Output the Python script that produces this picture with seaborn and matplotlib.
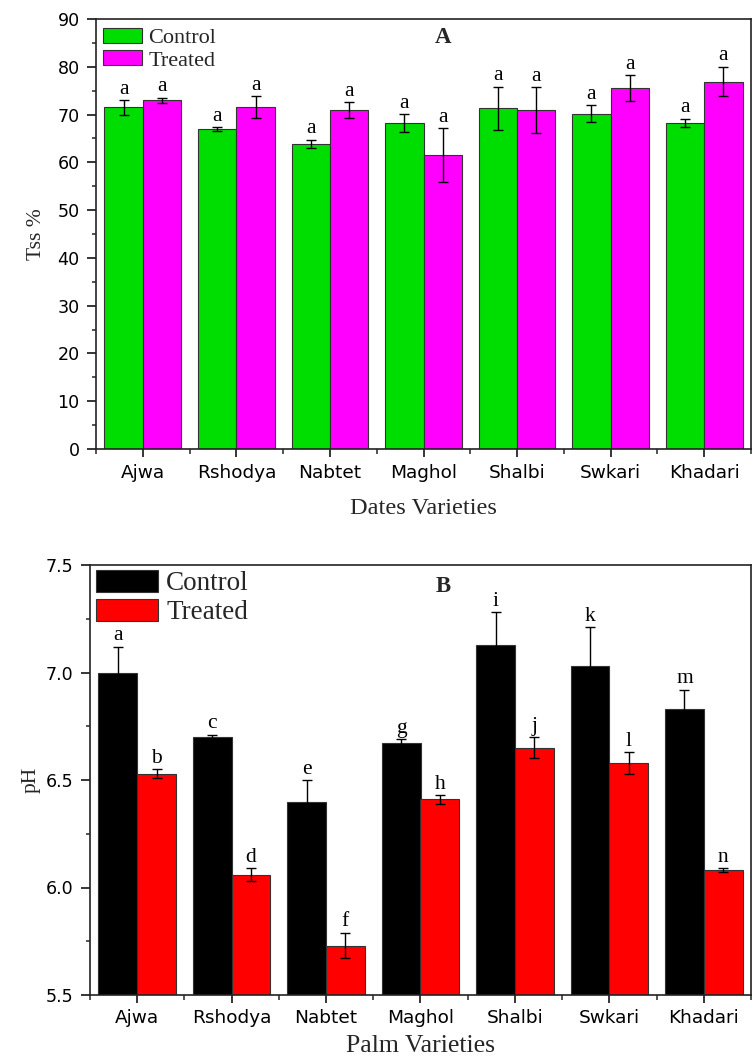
import numpy as np
import pandas as pd
import matplotlib
matplotlib.use("Agg")
import matplotlib.pyplot as plt
from matplotlib.ticker import MultipleLocator, FixedLocator
import seaborn as sns

# ---------------- data ----------------
varieties = ['Ajwa', 'Rshodya', 'Nabtet', 'Maghol', 'Shalbi', 'Swkari', 'Khadari']
groups = ['Control', 'Treated']

tss_control = [71.5, 66.9, 63.8, 68.2, 71.3, 70.2, 68.2]
tss_control_err = [1.5, 0.4, 0.9, 1.9, 4.5, 1.7, 0.9]
tss_treated = [73.0, 71.5, 70.9, 61.5, 70.9, 75.6, 76.9]
tss_treated_err = [0.5, 2.3, 1.7, 5.7, 4.8, 2.7, 3.1]
tss_control_letters = ['a', 'a', 'a', 'a', 'a', 'a', 'a']
tss_treated_letters = ['a', 'a', 'a', 'a', 'a', 'a', 'a']

ph_control = [7.00, 6.70, 6.40, 6.67, 7.13, 7.03, 6.83]
ph_control_err = [0.12, 0.01, 0.10, 0.02, 0.15, 0.18, 0.09]
ph_treated = [6.53, 6.06, 5.73, 6.41, 6.65, 6.58, 6.08]
ph_treated_err = [0.02, 0.03, 0.06, 0.02, 0.05, 0.05, 0.01]
ph_control_letters = ['a', 'c', 'e', 'g', 'i', 'k', 'm']
ph_treated_letters = ['b', 'd', 'f', 'h', 'j', 'l', 'n']

# ---------------- style ----------------
sns.set_style('ticks')
plt.rcParams['font.family'] = ['DejaVu Sans']
SERIF = ['Liberation Serif', 'DejaVu Serif']

fig = plt.figure(figsize=(7.53, 10.56), dpi=100)
W, H = 753, 1056
ax1 = fig.add_axes([96 / W, 1 - 449 / H, 655 / W, 430 / H])
ax2 = fig.add_axes([90 / W, 1 - 995 / H, 661 / W, 430 / H])


def make_df(ctrl, trt):
    return pd.DataFrame({
        'Variety': varieties * 2,
        'Group': ['Control'] * len(varieties) + ['Treated'] * len(varieties),
        'Value': list(ctrl) + list(trt),
    })


def panel(ax, ctrl, ctrl_err, trt, trt_err, l_ctrl, l_trt, colors, ylim,
          major, minor, ylabel, xlabel, xlabel_fs, title, letter_fs, leg_fs, hl, hh,
          leg_anchor, leg_spacing, leg_pad, title_xy, xpad, xlabpad, ylabpad):
    df = make_df(ctrl, trt)
    sns.barplot(data=df, x='Variety', y='Value', hue='Group', order=varieties,
                hue_order=groups, palette=colors, width=0.82, errorbar=None,
                edgecolor='#333333', linewidth=0.8, saturation=1, ax=ax)
    bar_containers = list(ax.containers)
    errs = [ctrl_err, trt_err]
    lets = [l_ctrl, l_trt]
    vals = [ctrl, trt]
    for ci, cont in enumerate(bar_containers):
        xs = [p.get_x() + p.get_width() / 2 for p in cont.patches]
        ax.errorbar(xs, vals[ci], yerr=errs[ci], fmt='none', ecolor='black',
                    elinewidth=1.0, capsize=3.5, capthick=1.0, zorder=5)
        for x, v, e, t in zip(xs, vals[ci], errs[ci], lets[ci]):
            ax.annotate(t, (x, v + e), xytext=(0, 1.0), textcoords='offset points',
                        ha='center', va='bottom', fontsize=letter_fs,
                        family=SERIF, color='black', zorder=6)
    ax.set_xlim(-0.5, 6.5)
    ax.set_ylim(*ylim)
    ax.yaxis.set_major_locator(MultipleLocator(major))
    ax.yaxis.set_minor_locator(MultipleLocator(minor))
    ax.xaxis.set_minor_locator(FixedLocator(np.arange(-0.5, 7.0, 1.0)))
    for s in ax.spines.values():
        s.set_visible(True)
        s.set_linewidth(1.2)
        s.set_color('#222222')
    ax.tick_params(axis='y', which='major', direction='out', length=6.7, width=1.1,
                   pad=5.0, labelsize=12.6, colors='black')
    ax.tick_params(axis='y', which='minor', direction='out', length=3.2, width=1.1)
    ax.tick_params(axis='x', which='major', direction='out', length=6.0, width=1.1,
                   pad=xpad, labelsize=13.3, colors='black')
    ax.tick_params(axis='x', which='minor', direction='out', length=3.6, width=1.1)
    ax.set_ylabel(ylabel, family=SERIF, fontsize=15.5, labelpad=ylabpad)
    ax.set_xlabel(xlabel, family=SERIF, fontsize=xlabel_fs, labelpad=xlabpad)
    ax.text(title_xy[0], title_xy[1], title, transform=ax.transAxes, ha='center',
            va='center', fontsize=16.5, fontweight='bold', family=SERIF)
    handles, labels = ax.get_legend_handles_labels()
    ax.legend(handles, labels, loc='upper left', bbox_to_anchor=leg_anchor,
              frameon=False, handlelength=hl, handleheight=hh, handletextpad=leg_pad,
              labelspacing=leg_spacing, borderaxespad=0, borderpad=0,
              prop={'family': SERIF, 'size': leg_fs})


panel(ax1, tss_control, tss_control_err, tss_treated, tss_treated_err,
      tss_control_letters, tss_treated_letters, ['#00DD00', '#FF00FF'],
      (0, 90), 10, 5, 'Tss %', 'Dates Varieties', 17.5, 'A', 15.5, 16, 1.76, 0.68,
      (0.011, 0.979), 0.08, 0.27, (0.53, 0.956), 5, 11, 8)

panel(ax2, ph_control, ph_control_err, ph_treated, ph_treated_err,
      ph_control_letters, ph_treated_letters, ['#000000', '#FF0000'],
      (5.5, 7.5), 0.5, 0.25, 'pH', 'Palm Varieties', 18.5, 'B', 15.5, 19.5, 2.28, 0.87,
      (0.0095, 0.988), 0.09, 0.3, (0.534, 0.949), 4, 6, 4)

fig.savefig('out.png', dpi=100)
